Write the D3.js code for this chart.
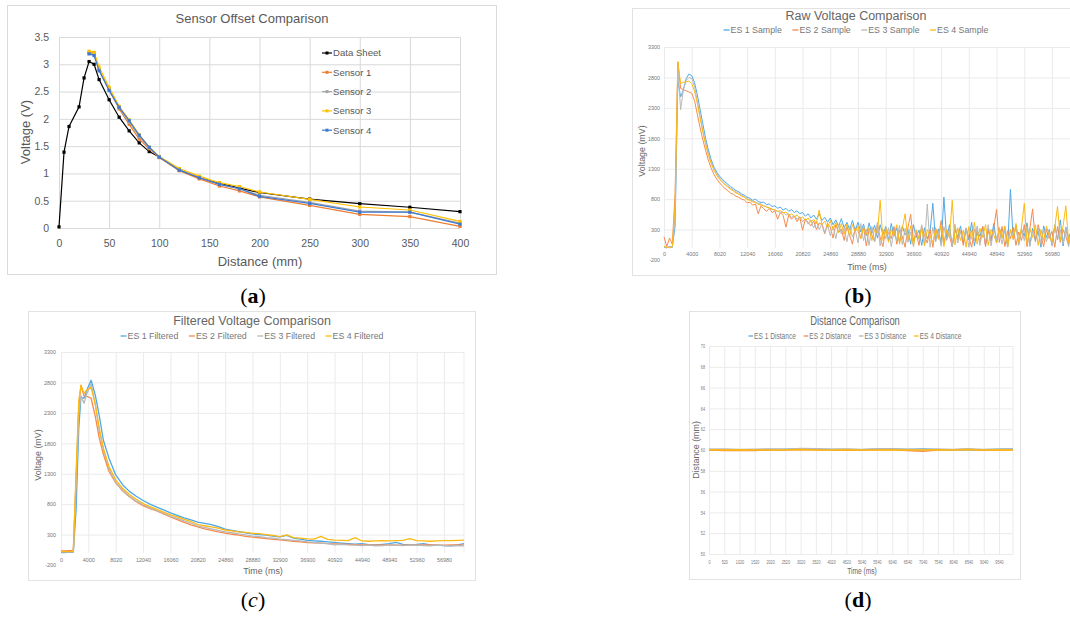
<!DOCTYPE html>
<html><head><meta charset="utf-8">
<script src="https://cdn.jsdelivr.net/npm/d3@7"></script>
<style>body{margin:0;background:#fff}svg{display:block}</style>
</head><body>
<svg id="chart" width="1070" height="617"></svg>
<script>
// ---------- Panel (a) data ----------
const offsetDistance = [0,5,10,20,25,30,35,40,50,60,70,80,90,100,120,140,160,180,200,250,300,350,400];
const dataSheetV = [0.02,1.39,1.86,2.22,2.75,3.05,3.0,2.72,2.35,2.03,1.78,1.56,1.40,1.30,1.06,0.92,0.82,0.73,0.65,0.53,0.445,0.38,0.30];
const sensorDistance = [30,35,40,50,60,70,80,90,100,120,140,160,180,200,250,300,350,400];
const sensor1V = [3.22,3.21,2.90,2.53,2.18,1.90,1.63,1.45,1.29,1.05,0.90,0.77,0.68,0.57,0.415,0.25,0.21,0.03];
const sensor2V = [3.20,3.18,2.90,2.55,2.20,1.94,1.68,1.47,1.30,1.07,0.93,0.80,0.72,0.60,0.47,0.31,0.29,0.09];
const sensor3V = [3.24,3.22,2.95,2.58,2.23,1.98,1.71,1.48,1.31,1.09,0.95,0.83,0.76,0.66,0.525,0.385,0.33,0.12];
const sensor4V = [3.19,3.16,2.88,2.52,2.21,1.97,1.70,1.48,1.30,1.06,0.92,0.80,0.72,0.58,0.45,0.29,0.29,0.07];
const offsetXTicks = [0,50,100,150,200,250,300,350,400];
const offsetYTicks = [0,0.5,1,1.5,2,2.5,3,3.5];
const offsetSeriesNames = ["Data Sheet","Sensor 1","Sensor 2","Sensor 3","Sensor 4"];

// ---------- Shared time-axis labels ----------
const voltageTimeLabels = ["0","4000","8020","12040","16060","20820","24860","28880","32900","36900","40920","44940","48940","52960","56980"];
const voltageTicks = [3300,2800,2300,1800,1300,800,300,-200];
const distanceTimeLabels = ["0","520","1020","1520","2020","2520","3020","3520","4020","4520","5040","5540","6040","6540","7040","7540","8040","8540","9040","9540"];
const distanceTicks = [70,68,66,64,62,60,58,56,54,52,50];

// ---------- Panel (b) raw samples (one row per label interval, 10 samples each) ----------
const rawES1 = [10,0,20,10,350,2750,2480,2600,2780,2856,
  2830,2720,2520,2280,2040,1800,1610,1450,1330,1245,
  1180,1130,1085,1045,1005,975,940,920,885,865,
  830,815,780,800,760,745,750,710,720,680,
  690,650,670,620,650,600,630,580,610,560,
  580,520,560,490,540,470,560,450,500,420,
  490,380,460,350,480,330,420,300,450,280,
  420,260,390,200,410,240,370,160,380,220,
  350,120,400,190,330,90,360,210,300,60,
  380,170,290,40,330,150,270,730,110,310,
  60,833,140,380,20,290,180,360,70,320,
  130,420,30,280,190,350,50,310,120,400,
  80,330,160,290,20,960,140,370,60,300,
  190,410,40,320,120,280,10,360,170,300,
  50,380,130,460,30,340,160,290,80,400];
const rawES2 = [180,20,160,60,900,3050,2620,2600,2580,2560,
  2540,2420,2200,1980,1780,1600,1440,1310,1210,1130,
  1070,1020,975,940,900,880,845,830,800,785,
  740,750,700,720,560,690,640,600,650,580,
  610,470,580,530,340,540,470,520,430,500,
  290,470,420,360,440,300,410,380,230,400,
  340,160,380,250,310,120,350,200,60,330,
  280,150,340,30,300,210,100,380,170,20,
  310,240,150,350,60,290,180,10,330,550,
  110,260,40,350,200,80,300,10,330,160,
  450,80,300,200,20,360,130,280,40,320,
  170,10,300,240,90,350,20,280,110,340,
  630,90,350,20,280,150,340,40,260,120,
  380,20,310,640,100,380,200,20,310,150,
  270,10,350,90,300,180,40,330,120,280];
const rawES3 = [10,0,20,10,500,2950,2270,2600,2750,2800,
  2780,2650,2420,2170,1930,1730,1550,1410,1300,1220,
  1150,1100,1055,1015,980,950,915,895,865,845,
  810,790,770,755,730,720,690,680,650,640,
  620,600,580,590,540,560,500,530,470,510,
  430,480,390,460,330,440,300,400,250,380,
  200,360,150,380,230,330,100,350,180,300,
  80,400,120,310,40,350,100,420,30,300,
  150,330,20,280,120,370,50,320,90,260,
  20,300,140,380,50,720,10,340,100,280,
  30,350,120,300,20,390,80,270,140,330,
  10,290,120,360,40,300,90,380,30,310,
  160,280,60,340,10,300,150,360,40,290,
  120,350,20,280,170,330,60,310,100,270,
  30,360,140,290,60,330,20,300,110,340];
const rawES4 = [30,10,0,20,700,3060,2700,2720,2730,2740,
  2700,2580,2380,2140,1900,1700,1520,1390,1280,1195,
  1130,1080,1035,1000,960,935,900,880,850,830,
  795,780,755,745,715,705,690,665,660,630,
  625,600,610,570,590,540,560,510,540,480,
  510,450,490,420,470,400,620,380,440,330,
  450,300,420,250,400,220,390,190,380,260,
  360,150,340,220,330,120,300,240,780,120,
  330,90,300,200,380,60,320,560,130,360,
  40,290,150,330,30,300,200,80,310,140,
  380,20,300,160,780,50,330,120,290,10,
  350,140,420,60,320,170,380,40,300,210,
  80,330,160,360,20,300,140,400,90,340,
  730,60,320,170,380,40,300,120,360,200,
  90,340,680,120,360,690,80,300,150,360];
const rawSamplePos = d3.range(rawES1.length).map(k => k / 10);

// ---------- Panel (c) filtered ----------
const filtPos = [0,0.125,0.25,0.375,0.45,0.55,0.65,0.73,0.84,0.95,1.1,1.25,1.4,1.55,1.75,
  2,2.25,2.5,2.75, 3,3.25,3.5,3.75, 4,4.25,4.5,4.75, 5,5.25,5.5,5.75, 6,6.25,6.5,6.75,
  7,7.25,7.5,7.75, 8,8.25,8.5,8.75, 9,9.25,9.5,9.75, 10,10.25,10.5,10.75, 11,11.25,11.5,11.75,
  12,12.25,12.5,12.75, 13,13.25,13.5,13.75, 14,14.25,14.5,14.73];
const filtES1 = [5,5,8,8,10,700,2050,2560,2540,2680,2836,2600,2250,1850,1560,
  1280,1120,1010,930, 860,800,750,705, 655,615,575,540, 505,485,465,430, 390,370,350,330,
  310,300,290,275, 262,285,240,225, 205,198,190,180, 172,160,150,142, 150,135,130,140,
  150,170,140,135, 140,150,130,128, 120,115,130,150];
const filtES2 = [30,32,35,35,38,1200,2400,2750,2580,2570,2540,2250,1880,1620,1340,
  1150,1020,920,840, 775,725,690,640, 590,545,500,460, 425,395,370,345, 325,305,290,272,
  258,248,235,222, 212,200,190,180, 170,165,158,152, 148,143,140,136, 132,130,128,130,
  130,128,128,126, 128,130,130,128, 128,130,132,128];
const filtES3 = [15,15,12,15,15,1100,2300,2580,2457,2620,2780,2450,2000,1700,1380,
  1160,1030,930,850, 790,740,695,650, 600,565,525,490, 440,420,395,370, 345,330,310,295,
  275,265,250,240, 225,215,205,195, 180,170,160,150, 130,140,130,125, 120,125,115,120,
  130,125,120,130, 125,120,115,125, 120,115,120,115];
const filtES4 = [20,22,20,22,25,1300,2500,2754,2620,2680,2720,2450,2050,1720,1420,
  1200,1060,960,880, 810,760,715,670, 625,590,550,515, 465,445,425,405, 375,360,345,335,
  320,315,300,285, 265,295,250,240, 230,225,270,220, 210,205,200,250, 195,190,195,200,
  195,200,205,235, 200,195,190,195, 200,200,205,210];

// ---------- Panel (d) distance ----------
const distES1 = [60.05,60.0,59.98,60.0,60.05,60.08,60.1,60.08,60.05,60.05,60.02,60.08,60.1,60.05,60.1,60.05,60.03,60.05,60.02,60.08,60.1];
const distES2 = [60.0,59.95,59.98,59.95,60.02,60.0,60.05,60.02,60.0,59.98,60.0,60.02,60.05,59.95,59.88,60.0,60.02,60.08,59.98,60.0,60.02];
const distES3 = [60.08,60.1,60.05,60.08,60.1,60.05,60.15,60.12,60.08,60.1,60.05,60.12,60.1,60.08,60.05,60.08,60.05,60.1,60.05,60.08,60.1];
const distES4 = [60.02,60.0,60.02,60.0,60.0,60.02,60.05,60.0,60.0,60.02,60.0,60.0,60.02,60.0,60.0,60.02,60.0,60.05,60.0,60.02,60.0];
const distPos = d3.range(distES1.length);

// ---------- drawing ----------
const svg = d3.select('#chart');
const FONT = "'Liberation Sans', Arial, Helvetica, sans-serif";
const esColors = ['#4fa8e6','#f7894d','#b9b9b9','#fdb913'];

// Panel (a)
(function(){
  const g = svg.append('g');
  g.append('rect').attr('x',7.5).attr('y',5.5).attr('width',489).attr('height',269)
    .attr('fill','none').attr('stroke','#d9d9d9');
  const x = d3.scaleLinear().domain([0,400]).range([59,460]);
  const y = d3.scaleLinear().domain([0,3.5]).range([228,37]);
  const ay = g.append('g').attr('transform','translate(59,0)')
    .call(d3.axisLeft(y).tickValues(offsetYTicks).tickSize(-(460-59)).tickPadding(10).tickFormat(d=>String(d)));
  ay.select('.domain').remove();
  ay.selectAll('line').attr('stroke','#d9d9d9');
  ay.attr('font-family',FONT).attr('font-size',10.5);
  ay.selectAll('text').attr('fill','#595959');
  const ax = g.append('g').attr('transform','translate(0,228)')
    .call(d3.axisBottom(x).tickValues(offsetXTicks).tickSize(-(228-37)).tickPadding(12).tickFormat(d=>String(d)));
  ax.select('.domain').remove();
  ax.selectAll('line').attr('stroke','#d9d9d9');
  ax.attr('font-family',FONT).attr('font-size',10.5);
  ax.selectAll('text').attr('fill','#595959');

  g.append('text').attr('x',252).attr('y',23).attr('text-anchor','middle')
    .attr('font-family',FONT).attr('font-size',13).attr('fill','#595959').text('Sensor Offset Comparison');
  g.append('text').attr('transform','translate(25,132) rotate(-90)').attr('dy','0.35em').attr('text-anchor','middle')
    .attr('font-family',FONT).attr('font-size',13).attr('fill','#595959').text('Voltage (V)');
  g.append('text').attr('x',260).attr('y',266).attr('text-anchor','middle')
    .attr('font-family',FONT).attr('font-size',13).attr('fill','#595959').text('Distance (mm)');

  const colors = ['#000000','#ED7D31','#A5A5A5','#FFC000','#3F78CF'];
  const series = [
    [offsetDistance, dataSheetV],[sensorDistance, sensor1V],[sensorDistance, sensor2V],
    [sensorDistance, sensor3V],[sensorDistance, sensor4V]];
  const line = d3.line().x(d=>x(d[0])).y(d=>y(d[1]));
  series.forEach((s,i)=>{
    const pts = d3.zip(s[0], s[1]);
    g.append('path').attr('d',line(pts)).attr('fill','none').attr('stroke',colors[i]).attr('stroke-width',1.2);
    g.append('g').selectAll('rect').data(pts).join('rect')
      .attr('x',d=>x(d[0])-1.6).attr('y',d=>y(d[1])-1.6).attr('width',3.2).attr('height',3.2).attr('fill',colors[i]);
  });
  const lg = g.append('g');
  offsetSeriesNames.forEach((nm,i)=>{
    const cy = 53 + i*19.3;
    lg.append('line').attr('x1',322).attr('x2',332).attr('y1',cy).attr('y2',cy).attr('stroke',colors[i]).attr('stroke-width',1.2);
    lg.append('rect').attr('x',325.5).attr('y',cy-1.5).attr('width',3).attr('height',3).attr('fill',colors[i]);
    lg.append('text').attr('x',333).attr('y',cy).attr('dy','0.35em').attr('font-family',FONT)
      .attr('font-size',9.6).attr('fill','#595959').text(nm);
  });
})();

function squeeze(sel, sx){
  if (sx === 1) return;
  sel.each(function(){
    const w = this.getComputedTextLength();
    d3.select(this).attr('textLength', w*sx).attr('lengthAdjust','spacingAndGlyphs');
  });
}

function timePanel(o){
  const sx = o.sx || 1;
  const g = svg.append('g');
  g.append('rect').attr('x',o.frame[0]+.5).attr('y',o.frame[1]+.5)
    .attr('width',o.frame[2]-o.frame[0]).attr('height',o.frame[3]-o.frame[1])
    .attr('fill','none').attr('stroke','#e2e2e2');
  const n = o.labels.length;
  const x = d3.scaleLinear().domain([0,n-1]).range([o.x0,o.xLast]);
  const y = d3.scaleLinear().domain(o.yDomain).range(o.yRange);
  const yTop = y(o.ticks[0]);
  const yBase = y(o.base);

  const ay = g.append('g').attr('transform',`translate(${o.x0},0)`)
    .call(d3.axisLeft(y).tickValues(o.ticks).tickFormat(d=>String(d)).tickSize(-(o.right-o.x0)).tickPadding(o.yPad));
  ay.select('.domain').remove();
  ay.selectAll('line').attr('stroke','#ebebeb').attr('stroke-opacity', d => d < o.base ? 0 : 1);
  ay.attr('font-family',FONT).attr('font-size',o.tickFont);
  ay.selectAll('text').attr('fill','#777');
  squeeze(ay.selectAll('text'), sx);

  const ax = g.append('g').attr('transform',`translate(0,${yBase})`)
    .call(d3.axisBottom(x).tickValues(d3.range(n)).tickFormat(i=>o.labels[i])
      .tickSize(-(yBase-yTop)).tickPadding(o.xPad));
  ax.select('.domain').remove();
  ax.selectAll('line').attr('stroke','#ebebeb');
  ax.attr('font-family',FONT).attr('font-size',o.tickFont);
  ax.selectAll('text').attr('fill','#777');
  squeeze(ax.selectAll('text'), sx);
  g.append('line').attr('x1',o.right).attr('x2',o.right).attr('y1',yTop).attr('y2',yBase).attr('stroke','#ebebeb');

  const clipId = 'clip' + o.id;
  g.append('clipPath').attr('id',clipId).append('rect')
    .attr('x',o.x0-2).attr('y',yTop-30).attr('width',o.right-o.x0+2).attr('height',yBase-yTop+40);
  const sg = g.append('g').attr('clip-path',`url(#${clipId})`);
  o.series.forEach((vals,i)=>{
    const line = d3.line().x((d,j)=>x(o.pos[j])).y(d=>y(d));
    sg.append('path').attr('d',line(vals)).attr('fill','none')
      .attr('stroke',esColors[i]).attr('stroke-width',o.lw).attr('stroke-linejoin','round');
  });

  const t = g.append('text').attr('x',o.titleX).attr('y',o.titleY).attr('text-anchor','middle')
    .attr('font-family',FONT).attr('font-size',12.5).attr('fill','#666').text(o.title);
  squeeze(t, sx);

  const lg = g.append('g');
  const texts = o.legend.map((nm,i)=>lg.append('text').attr('y',o.legendY).attr('font-family',FONT)
    .attr('font-size',8.8).attr('fill','#777').text(nm));
  texts.forEach(tx=>squeeze(tx, sx));
  const widths = texts.map(tx=>sx===1 ? tx.node().getComputedTextLength() : +tx.attr('textLength'));
  const mW = 6*sx, gap = 1, sp = 10.5*sx;
  const total = d3.sum(widths) + o.legend.length*(mW+gap) + sp*(o.legend.length-1);
  let cx = o.titleX - total/2;
  texts.forEach((tx,i)=>{
    lg.append('line').attr('x1',cx).attr('x2',cx+mW).attr('y1',o.legendY-3).attr('y2',o.legendY-3)
      .attr('stroke',esColors[i]).attr('stroke-width',1.3);
    tx.attr('x',cx+mW+gap);
    cx += mW + gap + widths[i] + sp;
  });

  g.append('text').attr('transform',`translate(${o.yTitle[0]},${o.yTitle[1]}) rotate(-90)`).attr('dy','0.35em')
    .attr('text-anchor','middle').attr('font-family',FONT).attr('font-size',8.9).attr('fill','#666').text(o.yTitleText);
  const xt = g.append('text').attr('x',o.xTitle[0]).attr('y',o.xTitle[1]).attr('text-anchor','middle')
    .attr('font-family',FONT).attr('font-size',8.9).attr('fill','#666').text('Time (ms)');
  squeeze(xt, sx);
}

timePanel({id:'b', frame:[632,8,1082,275], labels:voltageTimeLabels, x0:664, xLast:1052, right:1085,
  yDomain:[-200,3300], yRange:[260,47], base:0, ticks:voltageTicks, yPad:4, xPad:4, tickFont:5.4,
  pos:rawSamplePos, series:[rawES1,rawES2,rawES3,rawES4], lw:1.0,
  title:'Raw Voltage Comparison', titleX:856, titleY:19.5,
  legend:['ES 1 Sample','ES 2 Sample','ES 3 Sample','ES 4 Sample'], legendY:33,
  yTitle:[642,151], yTitleText:'Voltage (mV)', xTitle:[867,270]});

timePanel({id:'c', frame:[28,311,475,580], labels:voltageTimeLabels, x0:61, xLast:444, right:464,
  yDomain:[-200,3300], yRange:[565,352], base:0, ticks:voltageTicks, yPad:5, xPad:5, tickFont:5.4,
  pos:filtPos, series:[filtES1,filtES2,filtES3,filtES4], lw:1.3,
  title:'Filtered Voltage Comparison', titleX:252, titleY:325,
  legend:['ES 1 Filtered','ES 2 Filtered','ES 3 Filtered','ES 4 Filtered'], legendY:339,
  yTitle:[38,455], yTitleText:'Voltage (mV)', xTitle:[263,574]});

timePanel({id:'d', frame:[689,311,1020,579], labels:distanceTimeLabels, x0:709, xLast:999, right:1013,
  yDomain:[50,70], yRange:[554,346], base:50, ticks:distanceTicks, yPad:4, xPad:6, tickFont:5, sx:0.75,
  pos:distPos, series:[distES1,distES2,distES3,distES4], lw:1.5,
  title:'Distance Comparison', titleX:855, titleY:325,
  legend:['ES 1 Distance','ES 2 Distance','ES 3 Distance','ES 4 Distance'], legendY:339,
  yTitle:[696,450], yTitleText:'Distance (mm)', xTitle:[862,574]});

const caps = [['a',253,303,'bold','normal'],['b',858,303,'bold','normal'],['c',253,607,'normal','italic'],['d',858,607,'bold','normal']];
caps.forEach(c=>{
  const t = svg.append('text').attr('x',c[1]).attr('y',c[2]).attr('text-anchor','middle')
    .attr('font-family',"'Liberation Serif','DejaVu Serif',serif").attr('font-size',22).attr('fill','#000');
  t.append('tspan').text('(');
  t.append('tspan').attr('font-weight',c[3]).attr('font-style',c[4]).text(c[0]);
  t.append('tspan').text(')');
});
</script>
</body></html>
